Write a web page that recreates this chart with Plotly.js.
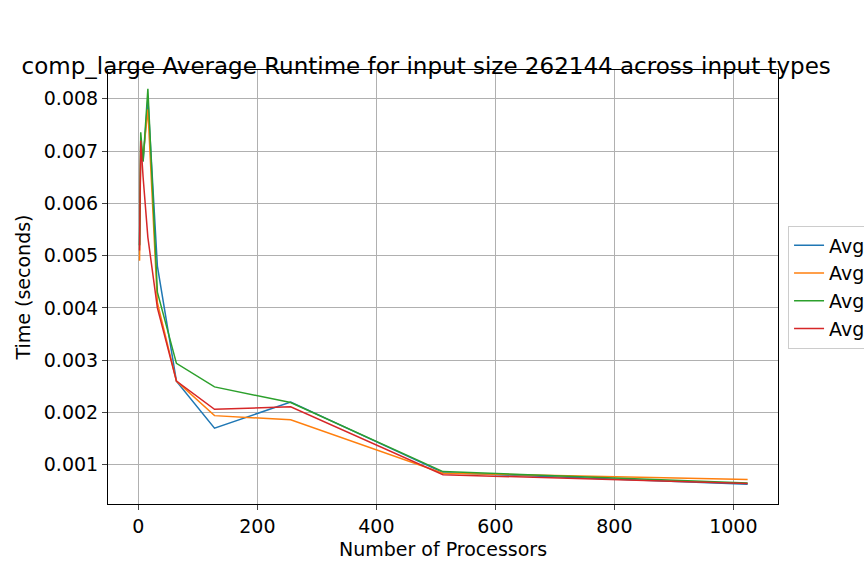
<!DOCTYPE html>
<html lang="en">
<head>
    <meta charset="UTF-8">
    <title>comp_large</title>
    <script src="https://cdn.plot.ly/plotly-3.0.1.min.js"></script>
</head>
<body style="margin:0">
<div id="plot" style="width:864px;height:576px"></div>
<script>
    let procs = [2, 4, 8, 16, 32, 64, 128, 256, 512, 1024]
    let names = ["Avg Random", "Avg Sorted", "Avg Reverse", "Avg 1% Perturbed"]
    let blue = [0.0052, 0.0072, 0.0068, 0.0080, 0.0048, 0.0026, 0.0017, 0.0022, 0.00085, 0.00063]
    let orange = [0.0049, 0.0071, 0.0069, 0.0078, 0.0041, 0.0026, 0.00194, 0.00186, 0.00084, 0.00072]
    let green = [0.0052, 0.00736, 0.0068, 0.00819, 0.0043, 0.00294, 0.00249, 0.00219, 0.00087, 0.00065]
    let red = [0.0051, 0.0072, 0.0065, 0.00535, 0.0040, 0.0026, 0.00206, 0.00211, 0.00081, 0.00064]
    let colors = ["#1f77b4", "#ff7f0e", "#2ca02c", "#d62728"]

    let data = [blue, orange, green, red].map((y, i) => ({
        x: procs, y: y, type: "scatter", mode: "lines", name: names[i],
        line: {color: colors[i], width: 1.5}
    }))

    let axis = {
        showgrid: true, gridcolor: "#b0b0b0", zeroline: false, showline: true,
        linecolor: "black", mirror: true, ticks: "outside", ticklen: 5,
        tickfont: {size: 19, color: "black"}
    }

    let layout = {
        font: {family: "DejaVu Sans", color: "black"},
        title: {text: "comp_large Average Runtime for input size 262144 across input types",
            font: {size: 23}, x: 0.025, xanchor: "left", y: 0.9},
        margin: {l: 108, r: 86, t: 70, b: 72, autoexpand: false},
        xaxis: Object.assign({}, axis, {range: [-51, 1075], tickvals: [0, 200, 400, 600, 800, 1000],
            title: {text: "Number of Processors", font: {size: 19}, standoff: 6}}),
        yaxis: Object.assign({}, axis, {range: [0.00025, 0.00855], dtick: 0.001, tickformat: ".3f",
            title: {text: "Time (seconds)", font: {size: 19}, standoff: 8}}),
        legend: {x: 1.015, y: 0.5, yanchor: "middle", font: {size: 19},
            bordercolor: "#cccccc", borderwidth: 1},
        plot_bgcolor: "white", paper_bgcolor: "white"
    }

    Plotly.newPlot("plot", data, layout, {displayModeBar: false})
</script>
</body>
</html>
